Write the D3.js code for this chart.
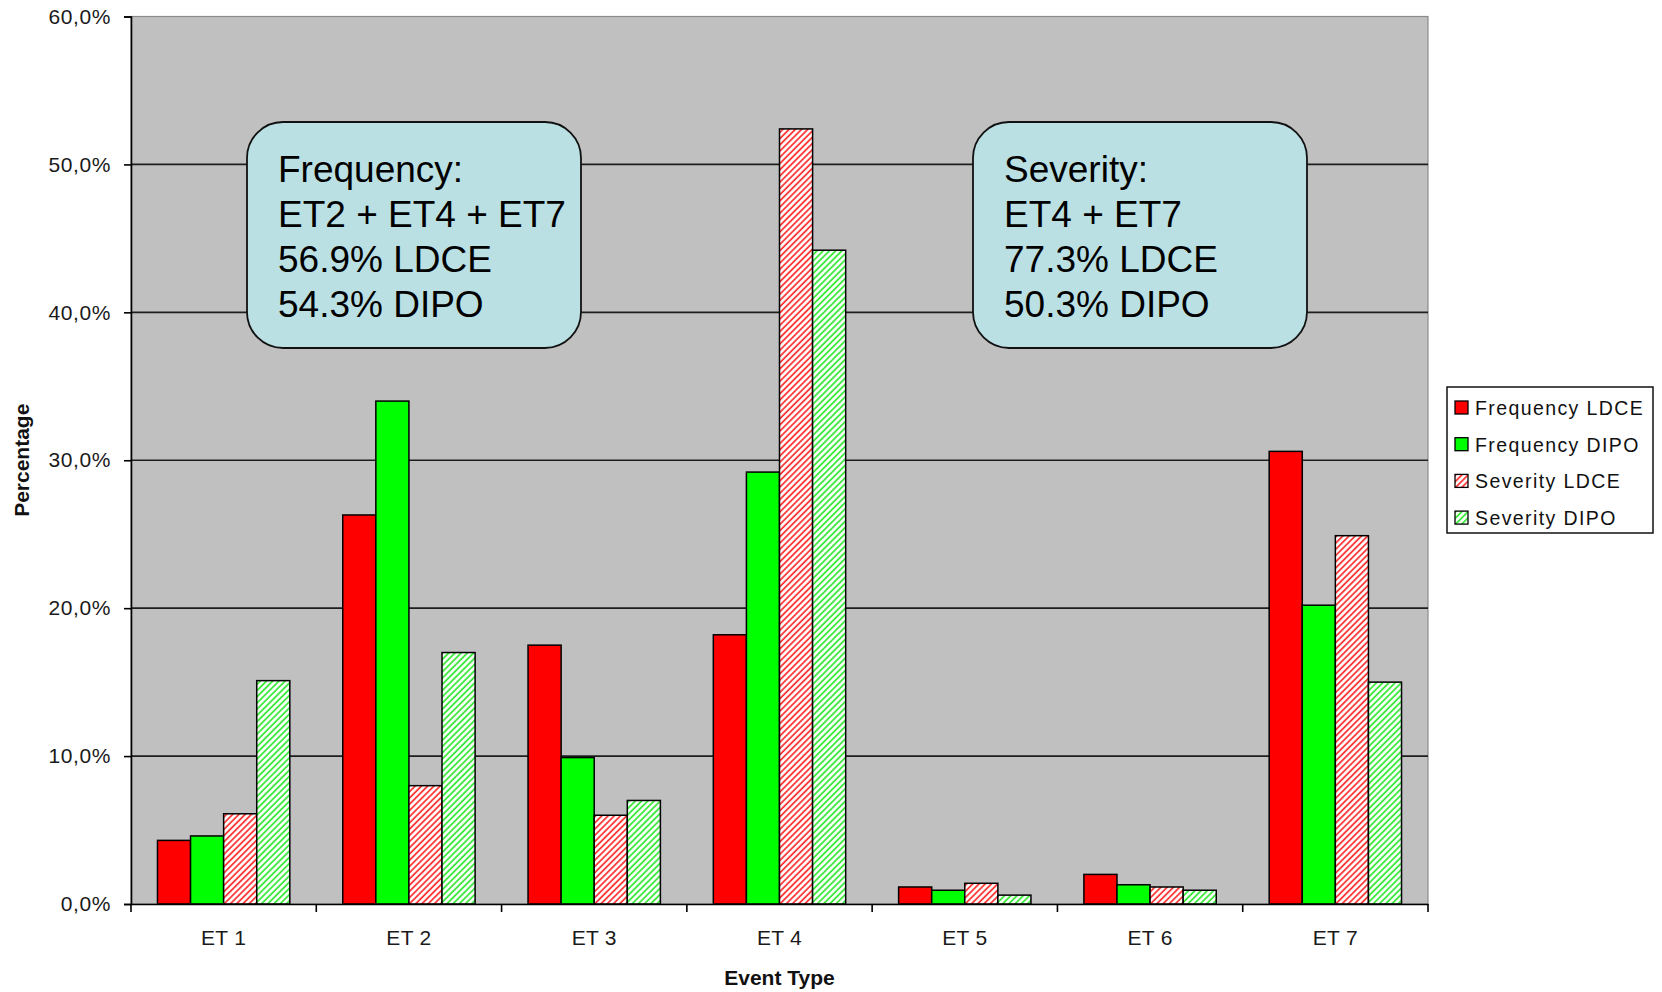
<!DOCTYPE html>
<html>
<head>
<meta charset="utf-8">
<script src="https://cdn.jsdelivr.net/npm/d3@7"></script>
<style>
  html, body { margin: 0; padding: 0; background: #ffffff; }
  svg { display: block; font-family: "Liberation Sans", Arial, sans-serif; }
</style>
</head>
<body>
<svg id="chart" width="1662" height="992"></svg>
<script>
// Event types on the x axis
const categories = ["ET 1", "ET 2", "ET 3", "ET 4", "ET 5", "ET 6", "ET 7"];

// Series names (legend order)
const seriesNames = ["Frequency LDCE", "Frequency DIPO", "Severity LDCE", "Severity DIPO"];

// Percentages per event type
const frequencyLDCE = [4.3, 26.3, 17.5, 18.2, 1.15, 2.0, 30.6];
const frequencyDIPO = [4.6, 34.0, 9.9, 29.2, 0.93, 1.3, 20.2];
const severityLDCE  = [6.1, 8.0, 6.0, 52.4, 1.4, 1.15, 24.9];
const severityDIPO  = [15.1, 17.0, 7.0, 44.2, 0.6, 0.93, 15.0];

// Y axis ticks
const yTicks = [0, 10, 20, 30, 40, 50, 60];

// Callout texts
const frequencyNote = ["Frequency:", "ET2 + ET4 + ET7", "56.9% LDCE", "54.3% DIPO"];
const severityNote  = ["Severity:", "ET4 + ET7", "77.3% LDCE", "50.3% DIPO"];

const seriesValues = [frequencyLDCE, frequencyDIPO, severityLDCE, severityDIPO];

const svg = d3.select("#chart");

const plot = { left: 131, right: 1428, top: 16.5, bottom: 904 };

const x0 = d3.scaleBand().domain(categories).range([plot.left, plot.right]).paddingInner(0).paddingOuter(0);
const x1 = d3.scaleBand().domain(seriesNames).range([0, x0.bandwidth()]).paddingInner(0).paddingOuter(0.8);
const y = d3.scaleLinear().domain([0, 60]).range([plot.bottom, plot.top]);

// Hatch patterns for the severity series
const defs = svg.append("defs");
function hatch(id, color) {
  const p = defs.append("pattern")
    .attr("id", id)
    .attr("patternUnits", "userSpaceOnUse")
    .attr("width", 4.4).attr("height", 4.4)
    .attr("patternTransform", "rotate(45)");
  p.append("rect").attr("width", 4.4).attr("height", 4.4).attr("fill", "#ffffff");
  p.append("line").attr("x1", 1).attr("y1", 0).attr("x2", 1).attr("y2", 4.4)
    .attr("stroke", color).attr("stroke-width", 1.7);
}
hatch("hatchRed", "#ff2a2a");
hatch("hatchGreen", "#2ee82e");

const fills = {
  "Frequency LDCE": "#ff0000",
  "Frequency DIPO": "#00ff00",
  "Severity LDCE": "url(#hatchRed)",
  "Severity DIPO": "url(#hatchGreen)"
};

// Plot area background
svg.append("rect")
  .attr("x", plot.left).attr("y", plot.top)
  .attr("width", plot.right - plot.left).attr("height", plot.bottom - plot.top)
  .attr("fill", "#c0c0c0").attr("stroke", "#8a8a8a").attr("stroke-width", 1.2);

// Horizontal gridlines
svg.append("g")
  .selectAll("line")
  .data(yTicks.filter(t => t > 0 && t < 60))
  .join("line")
  .attr("x1", plot.left).attr("x2", plot.right)
  .attr("y1", d => y(d)).attr("y2", d => y(d))
  .attr("stroke", "#1e1e1e").attr("stroke-width", 1.6);

// Bars
const rows = categories.map((c, i) => ({
  category: c,
  values: seriesNames.map((s, k) => ({ series: s, value: seriesValues[k][i] }))
}));

svg.append("g")
  .selectAll("g")
  .data(rows)
  .join("g")
  .attr("transform", d => `translate(${x0(d.category)},0)`)
  .selectAll("rect")
  .data(d => d.values)
  .join("rect")
  .attr("x", d => x1(d.series))
  .attr("width", x1.bandwidth())
  .attr("y", d => y(d.value))
  .attr("height", d => y(0) - y(d.value))
  .attr("fill", d => fills[d.series])
  .attr("stroke", "#000000")
  .attr("stroke-width", 1.5);

// Y axis
const yAxis = svg.append("g")
  .attr("transform", `translate(${plot.left},0)`)
  .call(d3.axisLeft(y)
    .tickValues(yTicks)
    .tickSize(7)
    .tickPadding(13)
    .tickFormat(d => d.toFixed(1).replace(".", ",") + "%"));
yAxis.select(".domain").attr("stroke", "#000").attr("stroke-width", 1.6);
yAxis.selectAll(".tick line").attr("stroke", "#000").attr("stroke-width", 1.6);
yAxis.selectAll(".tick text")
  .attr("font-size", 21).attr("fill", "#1a1a1a")
  .attr("font-family", "'Liberation Sans', Arial, sans-serif")
  .style("letter-spacing", "0.6px");

// X axis: labels centred in each category, ticks on category boundaries
const xAxis = svg.append("g")
  .attr("transform", `translate(0,${plot.bottom})`)
  .call(d3.axisBottom(x0).tickSize(0).tickPadding(26));
xAxis.select(".domain").attr("stroke", "#000").attr("stroke-width", 1.6);
xAxis.selectAll(".tick text")
  .attr("font-size", 21).attr("fill", "#1a1a1a")
  .attr("font-family", "'Liberation Sans', Arial, sans-serif")
  .style("letter-spacing", "0.3px");

const boundaries = categories.map(c => x0(c)).concat([x0.range()[1]]);
svg.append("g")
  .selectAll("line")
  .data(boundaries)
  .join("line")
  .attr("x1", d => d).attr("x2", d => d)
  .attr("y1", plot.bottom).attr("y2", plot.bottom + 8)
  .attr("stroke", "#000").attr("stroke-width", 1.6);

// Axis titles
svg.append("text")
  .attr("x", (plot.left + plot.right) / 2)
  .attr("y", 985)
  .attr("text-anchor", "middle")
  .attr("font-size", 21).attr("font-weight", "bold").attr("fill", "#111")
  .text("Event Type");

svg.append("text")
  .attr("transform", `translate(29,${(plot.top + plot.bottom) / 2}) rotate(-90)`)
  .attr("text-anchor", "middle")
  .attr("font-size", 21).attr("font-weight", "bold").attr("fill", "#111")
  .text("Percentage");

// Callout boxes
function callout(x, yTop, lines) {
  const g = svg.append("g");
  g.append("rect")
    .attr("x", x).attr("y", yTop)
    .attr("width", 334).attr("height", 226)
    .attr("rx", 36).attr("ry", 36)
    .attr("fill", "#bae0e4").attr("stroke", "#111").attr("stroke-width", 1.8);
  g.selectAll("text")
    .data(lines)
    .join("text")
    .attr("x", x + 31)
    .attr("y", (d, i) => yTop + 60 + i * 45)
    .attr("font-size", 37).attr("fill", "#000")
    .text(d => d);
}
callout(247, 122, frequencyNote);
callout(973, 122, severityNote);

// Legend
const legend = svg.append("g").attr("transform", "translate(1447,387)");
legend.append("rect")
  .attr("width", 206).attr("height", 146)
  .attr("fill", "#ffffff").attr("stroke", "#111").attr("stroke-width", 1.5);
const items = legend.selectAll("g.item")
  .data(seriesNames)
  .join("g")
  .attr("class", "item")
  .attr("transform", (d, i) => `translate(0,${28 + i * 36.7})`);
items.append("rect")
  .attr("x", 8).attr("y", -14).attr("width", 13).attr("height", 13)
  .attr("fill", d => fills[d]).attr("stroke", "#000").attr("stroke-width", 1.3);
items.append("text")
  .attr("x", 28).attr("y", 0)
  .attr("font-size", 19.5).attr("fill", "#111")
  .style("letter-spacing", "1.4px")
  .text(d => d);
</script>
</body>
</html>
